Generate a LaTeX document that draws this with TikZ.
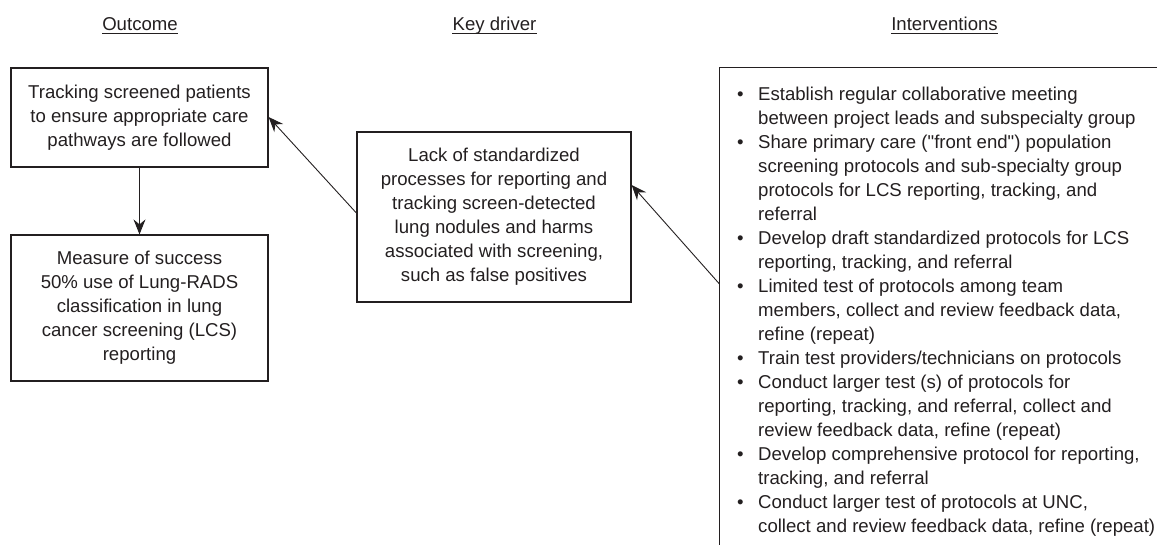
\documentclass[tikz,border=0pt]{standalone}
\usepackage{fontspec}
\setmainfont{Liberation Sans}[Ligatures=TeXOff]
\usetikzlibrary{arrows.meta}
\definecolor{ink}{HTML}{231F20}
\tikzset{
  boxnode/.style={draw=ink, line width=1.2pt, align=center, inner sep=0pt, text=ink,
    font=\fontsize{18.6}{24}\selectfont},
  headnode/.style={inner sep=0pt, text=ink, font=\fontsize{18.6}{24}\selectfont},
  headline/.style={draw=ink, line width=1.3pt},
  conn/.style={draw=ink, line width=0.9pt, -{Stealth[length=15pt,width=12pt,inset=5pt]}}
}
\begin{document}
\begin{tikzpicture}[x=1pt,y=-1pt]
\useasboundingbox (0,0) rectangle (1157,544);
% headings
\node[headnode, anchor=base] (h1) at (140,30) {Outcome};
\node[headnode, anchor=base] (h2) at (494.5,30) {Key driver};
\node[headnode, anchor=base] (h3) at (944.5,30) {Interventions};
\foreach \h in {h1,h2,h3}
  \draw[headline] ([yshift=-3.5pt]\h.base west) -- ([yshift=-3.5pt]\h.base east);
% outcome boxes
\node[boxnode, minimum width=257pt, minimum height=99pt] (b1) at (139.5,117.5)
  {Tracking screened patients\\to ensure appropriate care\\pathways are followed};
\node[boxnode, minimum width=257pt, minimum height=146pt] (b2) at (139.5,308)
  {Measure of success\\50\% use of Lung-RADS\\classification in lung\\cancer screening (LCS)\\reporting};
% key driver
\node[boxnode, minimum width=274pt, minimum height=170pt] (b3) at (494,217)
  {Lack of standardized\\processes for reporting and\\tracking screen-detected\\lung nodules and harms\\associated with screening,\\such as false positives};
% interventions box (open at right and bottom)
\draw[ink, line width=1.2pt] (1158,67.5) -- (719.5,67.5) -- (719.5,545);
\coordinate (ivw) at (719.5,284);
\node[anchor=north west, inner sep=0pt, text=ink, font=\fontsize{18.6}{24}\selectfont] (iv) at (737,83)
{\begin{tabular}[t]{@{}p{21pt}@{}l@{}}
\textbullet & Establish regular collaborative meeting\\
 & between project leads and subspecialty group\\
\textbullet & Share primary care ("front end") population\\
 & screening protocols and sub-specialty group\\
 & protocols for LCS reporting, tracking, and\\
 & referral\\
\textbullet & Develop draft standardized protocols for LCS\\
 & reporting, tracking, and referral\\
\textbullet & Limited test of protocols among team\\
 & members, collect and review feedback data,\\
 & refine (repeat)\\
\textbullet & Train test providers/technicians on protocols\\
\textbullet & Conduct larger test (s) of protocols for\\
 & reporting, tracking, and referral, collect and\\
 & review feedback data, refine (repeat)\\
\textbullet & Develop comprehensive protocol for reporting,\\
 & tracking, and referral\\
\textbullet & Conduct larger test of protocols at UNC,\\
 & collect and review feedback data, refine (repeat)
\end{tabular}};
% connectors
\draw[conn] (b1.south) -- (b2.north);
\draw[conn] ([yshift=4pt]b3.west) -- ([yshift=0.5pt]b1.east);
\draw[conn] (ivw) -- ([yshift=32pt]b3.east);
\end{tikzpicture}
\end{document}
